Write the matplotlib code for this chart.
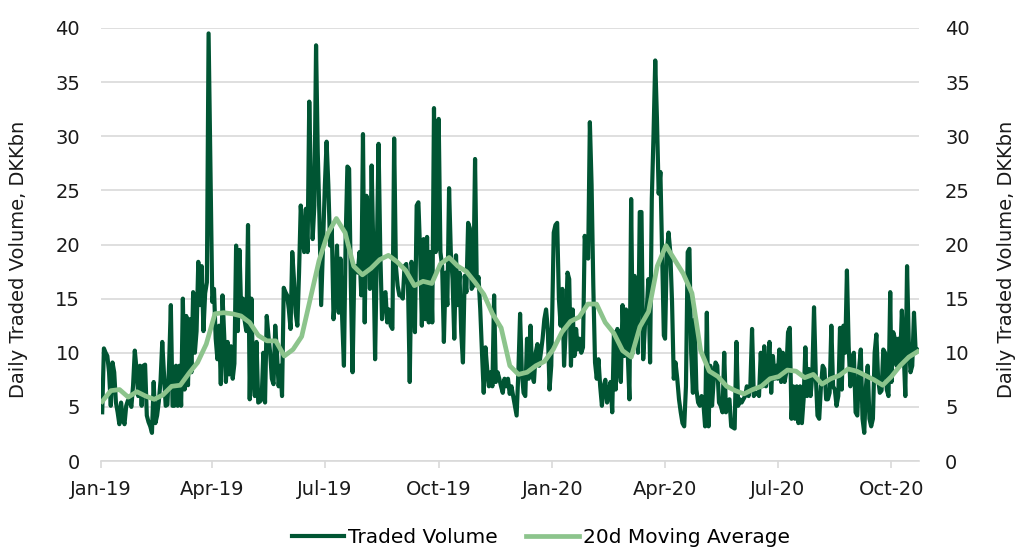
import pandas as pd
import matplotlib
matplotlib.use("Agg")
import matplotlib.pyplot as plt
import matplotlib.dates as mdates

plt.rcParams["font.family"] = ["DejaVu Sans"]

# ==========================================================
# Data (DKKbn)
# ==========================================================

# first / last trading day covered by each quarterly block
quarter_spans = [
    ("2019-01-02", "2019-03-29"),
    ("2019-04-01", "2019-06-28"),
    ("2019-07-01", "2019-09-30"),
    ("2019-10-01", "2019-12-31"),
    ("2020-01-02", "2020-03-31"),
    ("2020-04-01", "2020-06-30"),
    ("2020-07-01", "2020-09-30"),
    ("2020-10-01", "2020-10-22"),
]

vol_2019_q1 = [
    4.5, 10.4, 10.0, 9.7, 8.2, 5.1, 9.1, 8.2, 5.4, 4.5, 3.4, 5.4, 3.9, 3.4, 5.1, 5.6, 5.5, 5.0, 7.0, 10.2, 8.5, 6.0,
    8.8, 5.1, 8.8, 8.9, 4.2, 3.6, 3.2, 2.6, 7.3, 3.5, 4.2, 5.5, 7.4, 11.0, 8.0, 5.1, 5.2, 9.0, 14.4, 5.1,
    5.1, 8.8, 5.1, 8.8, 5.1, 15.0, 6.6, 13.4, 7.0, 13.1, 8.2, 15.6, 10.0, 12.0, 18.4, 14.4, 18.0, 12.0, 15.5, 16.5, 39.5,
]
vol_2019_q2 = [
    14.7, 15.9, 11.3, 9.4, 12.5, 7.1, 15.3, 11.6, 7.3, 11.0, 8.0, 10.6, 7.6, 9.0, 19.9, 12.0, 19.5, 13.7, 15.0, 13.0, 12.0, 21.8,
    5.7, 15.0, 7.6, 6.0, 11.0, 5.4, 5.5, 5.7, 10.0, 5.4, 13.4, 11.6, 10.0, 7.6, 7.1, 12.5, 10.0, 6.9, 8.8, 6.0, 16.0, 15.6, 15.3,
    14.0, 12.2, 19.3, 16.8, 13.7, 12.5, 17.4, 23.6, 21.1, 19.3, 23.3, 19.3, 33.2, 25.5, 20.5, 23.6, 38.4, 28.5, 22.4, 14.4,
]
vol_2019_q3 = [
    25.5, 29.5, 25.5, 19.9, 21.5, 13.1, 15.6, 19.9, 13.7, 18.7, 13.1, 8.8, 20.5, 27.2, 27.0, 16.2, 8.2, 17.7, 18.0, 17.4, 19.3, 15.3, 30.2,
    12.8, 24.5, 23.6, 15.9, 27.3, 19.3, 9.4, 19.3, 29.3, 19.3, 13.1, 15.3, 15.6, 12.8, 14.0, 12.5, 12.2, 29.8, 18.0, 16.2, 15.3, 15.3,
    15.0, 18.0, 18.2, 16.2, 7.3, 18.4, 17.4, 11.9, 23.6, 23.9, 19.3, 12.5, 20.5, 13.1, 20.7, 12.8, 19.3, 12.8, 32.6, 19.3, 19.9,
]
vol_2019_q4 = [
    31.6, 19.3, 18.0, 11.0, 17.4, 14.4, 25.2, 19.3, 16.8, 11.3, 19.0, 14.4, 17.4, 11.9, 9.1, 17.1, 15.6, 22.0, 21.5, 15.9, 16.2, 27.9, 16.2,
    17.0, 14.0, 10.0, 6.3, 10.5, 8.5, 6.9, 8.2, 6.9, 15.3, 7.3, 8.2, 7.6, 6.9, 6.3, 7.6, 6.9, 7.6, 6.2, 6.9, 6.0,
    5.1, 4.2, 8.2, 13.6, 8.2, 6.3, 6.0, 11.3, 7.6, 12.5, 7.9, 7.3, 10.0, 10.8, 8.8, 10.0, 11.3, 13.1, 14.0, 12.2, 6.6, 8.8,
]
vol_2020_q1 = [
    21.1, 21.8, 22.0, 15.0, 12.5, 15.9, 8.8, 12.2, 17.4, 16.8, 8.8, 14.0, 9.7, 12.2, 10.3, 11.3, 10.0, 10.5, 20.8, 19.3, 18.7, 31.3, 25.5,
    16.2, 9.1, 7.6, 9.4, 6.9, 5.1, 6.9, 7.5, 5.4, 6.3, 7.3, 4.5, 11.9, 6.6, 12.2, 8.8, 7.3, 14.4, 9.7, 14.0,
    10.0, 5.7, 24.2, 10.0, 17.1, 13.4, 10.0, 23.0, 23.0, 9.4, 12.5, 13.7, 16.8, 9.1, 24.2, 30.1, 37.0, 31.6, 24.7, 26.7, 19.3, 11.6,
]
vol_2020_q2 = [
    11.3, 19.3, 21.1, 19.3, 14.7, 7.6, 9.1, 7.6, 5.7, 4.5, 3.5, 3.2, 6.9, 19.3, 19.6, 10.0, 6.3, 13.1, 6.6, 5.4, 5.1, 6.0,
    5.4, 3.2, 13.7, 3.2, 8.8, 5.1, 7.6, 9.1, 8.8, 5.4, 5.1, 4.5, 10.0, 4.5, 5.1, 5.7, 3.2, 3.1, 3.0, 11.0, 5.1,
    5.7, 5.4, 5.7, 6.0, 6.9, 6.0, 6.9, 12.2, 6.0, 6.3, 6.3, 6.0, 10.0, 6.9, 10.6, 6.9, 8.2, 11.0, 6.3, 9.7, 7.6, 8.8,
]
vol_2020_q3 = [
    7.6, 10.3, 7.3, 10.0, 7.3, 8.2, 11.9, 12.3, 3.9, 6.9, 3.9, 6.9, 3.5, 6.9, 3.5, 5.7, 10.5, 6.0, 8.5, 6.0, 7.9, 14.2, 8.0,
    4.2, 3.9, 6.9, 8.8, 8.5, 5.7, 5.7, 6.3, 12.5, 6.9, 6.6, 5.1, 6.0, 12.3, 6.6, 12.5, 10.0, 17.6, 10.6, 6.9, 9.4,
    10.0, 4.5, 4.2, 8.5, 10.3, 3.9, 2.6, 6.9, 8.8, 3.9, 3.2, 3.9, 10.0, 11.7, 7.6, 6.3, 6.5, 10.3, 10.0, 6.6, 6.0, 15.6,
]
vol_2020_q4 = [
    7.3, 11.9, 11.3, 8.8, 11.3, 9.1, 13.9, 10.3, 6.0, 18.0, 11.0, 8.2, 8.8, 13.7, 10.0, 10.3,
]

volume_blocks = [
    vol_2019_q1, vol_2019_q2, vol_2019_q3, vol_2019_q4,
    vol_2020_q1, vol_2020_q2, vol_2020_q3, vol_2020_q4,
]

# 20d moving average, roughly weekly readings from 2019-01-02 to 2020-10-22
ma_start, ma_end = "2019-01-02", "2020-10-22"
ma_20d = [
    5.5, 6.5, 6.6, 5.9, 6.4, 6.0, 5.7, 6.1, 6.9, 7.0, 8.1, 9.1, 10.8, 13.6, 13.7, 13.6,
    13.4, 12.8, 11.6, 11.1, 11.1, 9.7, 10.3, 11.5, 15.0, 18.5, 21.0, 22.4, 21.1, 18.0,
    17.2, 17.8, 18.6, 19.0, 18.4, 17.6, 16.2, 16.6, 16.4, 18.2, 18.8, 18.0, 17.5, 16.5,
    15.4, 13.6, 12.3, 8.8, 8.0, 8.2, 8.8, 9.2, 10.3, 11.9, 12.9, 13.3, 14.5, 14.5, 12.8,
    11.8, 10.2, 9.6, 12.4, 13.8, 18.0, 19.9, 18.6, 17.3, 15.5, 10.2, 8.3, 7.8, 6.9, 6.5,
    6.2, 6.6, 6.9, 7.6, 7.8, 8.4, 8.3, 7.7, 8.0, 7.1, 7.6, 7.9, 8.5, 8.3, 7.9, 7.5, 7.0,
    7.8, 8.8, 9.6, 10.1,
]

axis_label = "Daily Traded Volume, DKKbn"
y_ticks = [0, 5, 10, 15, 20, 25, 30, 35, 40]

# ==========================================================
# Build series
# ==========================================================

parts = []
for (start, end), vals in zip(quarter_spans, volume_blocks):
    idx = pd.date_range(start, end, periods=len(vals))
    parts.append(pd.Series(vals, index=idx))
volume = pd.concat(parts)

ma = pd.Series(ma_20d, index=pd.date_range(ma_start, ma_end, periods=len(ma_20d)))

# ==========================================================
# Plot
# ==========================================================

dark_green = "#005533"
light_green = "#8CC48C"
grid_grey = "#D9D9D9"
text_col = "#1A1A1A"
fs = 14

fig = plt.figure(figsize=(10.26, 5.5), dpi=100)
ax = fig.add_axes([0.0984, 0.1618, 0.797, 0.7873])

ax.plot(volume.index, volume.values, color=dark_green, linewidth=3.0,
        label="Traded Volume", zorder=3)
ax.plot(ma.index, ma.values, color=light_green, linewidth=3.4,
        label="20d Moving Average", zorder=4)

ax.set_xlim(pd.Timestamp("2019-01-01"), pd.Timestamp("2020-10-23"))
ax.set_ylim(0, 40)
ax.set_yticks(y_ticks)
ax.yaxis.grid(True, color=grid_grey, linewidth=1.2)
ax.set_axisbelow(True)

ax.xaxis.set_major_locator(mdates.MonthLocator(bymonth=[1, 4, 7, 10]))
ax.xaxis.set_major_formatter(mdates.DateFormatter("%b-%y"))

for side in ["top", "left", "right"]:
    ax.spines[side].set_visible(False)
ax.spines["bottom"].set_color(grid_grey)
ax.spines["bottom"].set_linewidth(1.2)

ax.tick_params(axis="x", colors=grid_grey, length=5, width=1.2, pad=9,
               labelsize=fs, labelcolor=text_col)
ax.tick_params(axis="y", length=0, pad=15, labelsize=fs, labelcolor=text_col)
ax.set_ylabel(axis_label, fontsize=fs, color=text_col)
ax.yaxis.set_label_coords(-0.089, 0.465)

ax2 = ax.twinx()
ax2.set_ylim(0, 40)
ax2.set_yticks(y_ticks)
for side in ["top", "left", "right", "bottom"]:
    ax2.spines[side].set_visible(False)
ax2.tick_params(axis="y", length=0, pad=19, labelsize=fs, labelcolor=text_col)
ax2.set_ylabel(axis_label, fontsize=fs, color=text_col)
ax2.yaxis.set_label_coords(1.096, 0.465)

fig.legend(loc="center", bbox_to_anchor=(0.527, 0.022), ncol=2, frameon=False,
           fontsize=14.5, handlelength=2.6, handletextpad=0.2, columnspacing=1.4)

fig.savefig("out.png", dpi=100)
plt.close(fig)
